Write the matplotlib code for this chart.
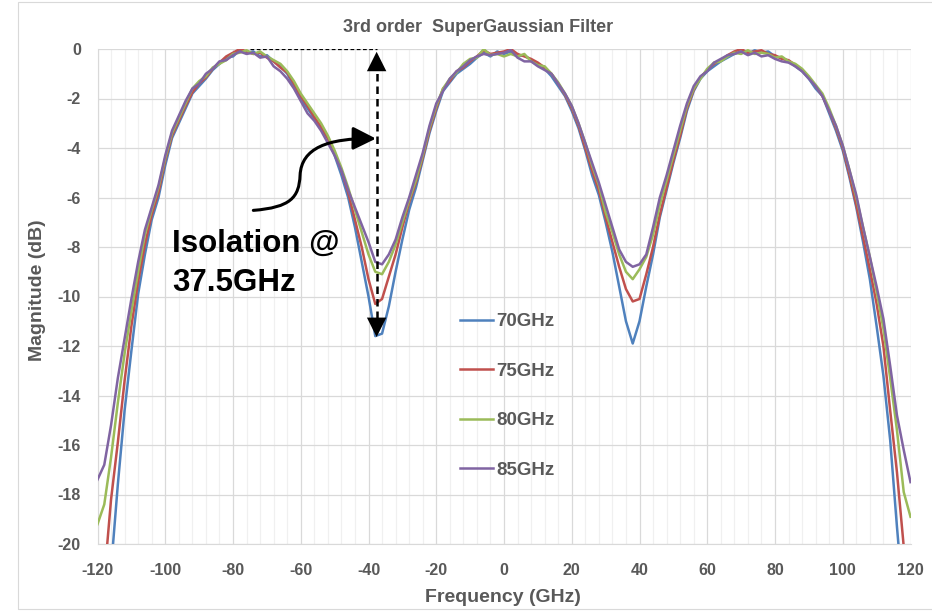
import numpy as np
import matplotlib
matplotlib.use("Agg")
import matplotlib.pyplot as plt
from matplotlib.patches import FancyArrowPatch, Rectangle
from matplotlib.path import Path
from matplotlib.ticker import MultipleLocator

plt.rcParams["axes.unicode_minus"] = False
plt.rcParams["font.family"] = ["Liberation Sans", "DejaVu Sans"]

# frequency grid (GHz), 2 GHz steps
freq = np.arange(-120, 121, 2)

mag_70 = [-26.0, -23.0, -21.0, -17.6, -14.6, -12.2, -9.9, -8.3, -6.9, -6.0,
          -4.7, -3.6, -3.0, -2.4, -1.8, -1.5, -1.2, -0.85, -0.6, -0.35,
          -0.3, -0.05, -0.15, -0.1, -0.3, -0.25, -0.5, -0.7, -1.0, -1.5,
          -2.0, -2.4, -2.8, -3.2, -3.6, -4.3, -5.1, -6.0, -7.2, -8.6,
          -10.0, -11.6, -11.5, -10.4, -9.0, -7.7, -6.5, -5.6, -4.5, -3.4,
          -2.5, -1.7, -1.35, -1.0, -0.8, -0.6, -0.35, -0.15, -0.3, -0.1,
          -0.2, -0.1, -0.3, -0.25, -0.45, -0.6, -0.8, -1.1, -1.5, -1.9,
          -2.5, -3.2, -4.1, -5.1, -5.9, -7.0, -8.2, -9.6, -11.0, -11.9,
          -11.0, -9.6, -8.3, -6.8, -5.7, -4.6, -3.6, -2.5, -1.7, -1.2,
          -0.9, -0.7, -0.5, -0.35, -0.2, -0.1, -0.2, -0.05, -0.15, -0.1,
          -0.3, -0.35, -0.5, -0.7, -0.9, -1.2, -1.6, -1.9, -2.6, -3.3,
          -4.1, -5.2, -6.4, -7.8, -9.3, -11.2, -13.2, -15.8, -19.3, -22.5,
          -25.5]

mag_75 = [-23.8, -21.4, -18.2, -15.9, -13.4, -11.2, -9.4, -7.9, -6.7, -5.8,
          -4.5, -3.5, -2.9, -2.3, -1.75, -1.4, -1.15, -0.8, -0.55, -0.3,
          -0.15, 0.0, -0.1, -0.2, -0.15, -0.35, -0.5, -0.75, -0.95, -1.4,
          -1.9, -2.3, -2.75, -3.15, -3.6, -4.2, -4.9, -5.8, -6.9, -8.0,
          -9.3, -10.3, -10.1, -9.2, -8.3, -7.2, -6.2, -5.4, -4.4, -3.3,
          -2.4, -1.6, -1.3, -0.9, -0.75, -0.5, -0.3, -0.05, -0.2, -0.15,
          -0.1, 0.0, -0.2, -0.3, -0.4, -0.55, -0.75, -1.0, -1.4, -1.85,
          -2.4, -3.1, -4.0, -4.9, -5.7, -6.8, -7.8, -8.8, -9.7, -10.2,
          -10.1, -9.1, -8.0, -6.7, -5.6, -4.5, -3.5, -2.4, -1.65, -1.15,
          -0.85, -0.6, -0.45, -0.25, -0.1, 0.0, -0.15, -0.1, -0.05, -0.2,
          -0.25, -0.4, -0.45, -0.65, -0.85, -1.15, -1.5, -1.9, -2.5, -3.2,
          -4.0, -5.1, -6.3, -7.6, -8.9, -10.3, -12.0, -14.6, -17.1, -20.1,
          -22.8]

mag_80 = [-19.2, -18.4, -16.5, -14.3, -12.3, -10.6, -9.0, -7.5, -6.5, -5.6,
          -4.4, -3.4, -2.8, -2.2, -1.6, -1.3, -1.1, -0.75, -0.6, -0.45,
          -0.2, -0.15, -0.05, -0.2, -0.1, -0.3, -0.45, -0.6, -0.9, -1.3,
          -1.8, -2.2, -2.6, -3.0, -3.5, -4.1, -4.8, -5.6, -6.5, -7.4,
          -8.3, -9.0, -9.1, -8.6, -7.9, -7.0, -6.1, -5.3, -4.3, -3.2,
          -2.3, -1.6, -1.2, -0.95, -0.6, -0.4, -0.35, 0.0, -0.25, -0.2,
          -0.3, -0.2, -0.3, -0.2, -0.5, -0.65, -0.7, -1.0, -1.35, -1.8,
          -2.3, -3.0, -3.8, -4.7, -5.5, -6.6, -7.4, -8.3, -9.0, -9.3,
          -8.9, -8.4, -7.5, -6.3, -5.3, -4.3, -3.3, -2.3, -1.6, -1.2,
          -0.8, -0.55, -0.5, -0.3, -0.15, -0.2, -0.05, -0.2, -0.15, -0.2,
          -0.35, -0.3, -0.5, -0.6, -0.8, -1.1, -1.45, -1.8, -2.4, -3.1,
          -3.9, -4.9, -6.0, -7.2, -8.4, -9.8, -11.3, -13.3, -15.4, -17.9,
          -18.9]

mag_85 = [-17.4, -16.8, -15.2, -13.3, -11.7, -10.1, -8.6, -7.3, -6.4, -5.5,
          -4.3, -3.3, -2.7, -2.1, -1.6, -1.4, -1.0, -0.8, -0.5, -0.45,
          -0.25, -0.1, -0.2, -0.15, -0.35, -0.3, -0.7, -0.9, -1.2, -1.6,
          -2.1, -2.6, -2.9, -3.3, -3.8, -4.3, -4.9, -5.7, -6.4, -7.1,
          -7.8, -8.6, -8.7, -8.3, -7.7, -6.8, -6.0, -5.1, -4.2, -3.1,
          -2.2, -1.7, -1.2, -0.9, -0.7, -0.45, -0.3, -0.2, -0.25, -0.2,
          -0.15, -0.05, -0.35, -0.5, -0.5, -0.7, -0.85, -1.0, -1.4, -1.8,
          -2.3, -3.0, -3.8, -4.6, -5.4, -6.3, -7.2, -8.1, -8.6, -8.8,
          -8.7, -8.3, -7.2, -6.0, -5.1, -4.1, -3.1, -2.2, -1.5, -1.1,
          -0.9, -0.55, -0.4, -0.25, -0.2, -0.1, -0.25, -0.15, -0.3, -0.25,
          -0.4, -0.5, -0.55, -0.7, -0.9, -1.2, -1.5, -1.9, -2.5, -3.1,
          -3.9, -4.9, -5.9, -7.2, -8.4, -9.6, -10.9, -12.8, -14.8, -16.2,
          -17.5]

series = [("70GHz", mag_70, "#4F81BD"),
          ("75GHz", mag_75, "#C0504D"),
          ("80GHz", mag_80, "#9BBB59"),
          ("85GHz", mag_85, "#8064A2")]

GREY = "#595959"
W, H = 932, 611

fig = plt.figure(figsize=(W / 100, H / 100), dpi=100)
ax = fig.add_axes([97.5 / W, 1 - 544 / H, 813 / W, 495 / H])

# light chart border like the Excel frame
fig.patches.append(Rectangle((18 / W, 2 / H), 1.2, 1 - 2 * 2 / H,
                             transform=fig.transFigure, fill=False,
                             edgecolor="#D9D9D9", linewidth=0.8))

for label, vals, color in series:
    ax.plot(freq, vals, color=color, linewidth=1.8, label=label, zorder=3)

ax.set_xlim(-120, 120)
ax.set_ylim(-20, 0)
ax.xaxis.set_major_locator(MultipleLocator(20))
ax.xaxis.set_minor_locator(MultipleLocator(4))
ax.yaxis.set_major_locator(MultipleLocator(2))
ax.grid(which="major", axis="both", color="#D9D9D9", linewidth=0.9, zorder=0)
ax.grid(which="minor", axis="x", color="#F0F0F0", linewidth=0.9, zorder=0)
ax.set_axisbelow(True)
for side in ("top", "right"):
    ax.spines[side].set_visible(False)
for side in ("left", "bottom"):
    ax.spines[side].set_color("#D9D9D9")
ax.tick_params(which="both", length=0)
ax.tick_params(axis="x", pad=14, labelsize=11.5, labelcolor=GREY)
ax.tick_params(axis="y", pad=12, labelsize=11.5, labelcolor=GREY)
for t in ax.get_xticklabels() + ax.get_yticklabels():
    t.set_fontweight("bold")

fig.text(478 / W, 1 - 28 / H, "3rd order  SuperGaussian Filter", ha="center",
         va="center", fontsize=13, fontweight="bold", color=GREY)
fig.text(503 / W, 1 - 598 / H, "Frequency (GHz)", ha="center", va="center",
         fontsize=14, fontweight="bold", color=GREY)
fig.text(38 / W, 1 - 290 / H, "Magnitude (dB)", ha="center", va="center",
         rotation=90, fontsize=14, fontweight="bold", color=GREY)

leg = ax.legend(loc="center left", bbox_to_anchor=(460 / W, 1 - 396 / H),
                bbox_transform=fig.transFigure, frameon=False, borderpad=0,
                borderaxespad=0, handlelength=1.75, handletextpad=0.2,
                labelspacing=1.73, prop={"weight": "bold", "size": 13.5})
for t in leg.get_texts():
    t.set_color(GREY)

# isolation annotation
ax.plot([-75, -37.6], [0, 0], color="black", linewidth=0.9,
        linestyle=(0, (3, 2)), zorder=4)
ax.plot([-37.6, -37.6], [-0.5, -11.2], color="black", linewidth=1.8,
        linestyle=(0, (3, 2)), zorder=4)
for tip, tail in ((0.0, -0.8), (-11.75, -10.95)):
    ax.annotate("", xy=(-37.6, tip), xytext=(-37.6, tail),
                arrowprops=dict(arrowstyle="-|>,head_length=0.7,head_width=0.35",
                                color="black", lw=0, mutation_scale=20),
                zorder=5)

verts = [(-74.0, -6.52), (-63.0, -6.4), (-60.5, -6.0), (-60.2, -5.1),
         (-59.8, -4.0), (-52.0, -3.6), (-37.8, -3.62)]
codes = [Path.MOVETO] + [Path.CURVE4] * 6
curved = FancyArrowPatch(path=Path(verts, codes),
                         arrowstyle="-|>,head_length=0.7,head_width=0.35",
                         mutation_scale=20, color="black", linewidth=2.2,
                         zorder=5)
ax.add_patch(curved)

ax.text(-98.1, -8.21, "Isolation @", ha="left", va="baseline", fontsize=22.5,
        fontweight="bold", color="black", zorder=6)
ax.text(-98.0, -9.76, "37.5GHz", ha="left", va="baseline", fontsize=22.5,
        fontweight="bold", color="black", zorder=6)

fig.savefig("out.png", dpi=100)
